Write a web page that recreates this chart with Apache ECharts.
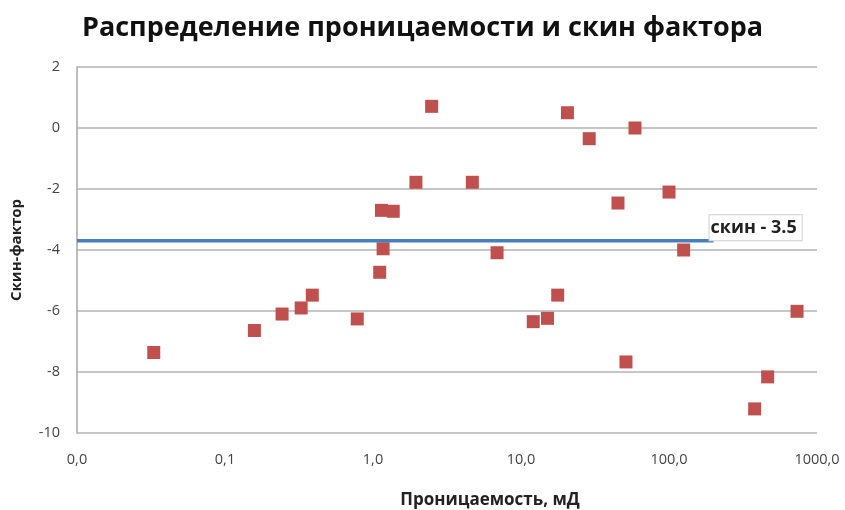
<!DOCTYPE html>
<html><head><meta charset="utf-8">
<script src="https://cdn.jsdelivr.net/npm/echarts@6/dist/echarts.min.js"></script>
<style>html,body{margin:0;padding:0;background:#fff}#c{width:845px;height:510px}</style>
</head><body><div id="c"></div>
<script>
const permeability = [0.033, 0.158, 0.243, 0.327, 0.389, 0.783, 1.11, 1.17, 1.14, 1.37, 1.95, 2.49, 4.69, 6.89, 20.6, 28.9, 58.9, 45.2, 100, 125.6, 17.7, 12.1, 15.1, 51.2, 464, 379, 733];
const skin = [-7.36, -6.64, -6.10, -5.90, -5.48, -6.26, -4.73, -3.96, -2.70, -2.73, -1.78, 0.71, -1.78, -4.09, 0.50, -0.35, 0.0, -2.46, -2.10, -4.0, -5.48, -6.35, -6.24, -7.67, -8.16, -9.21, -6.01];
const lineX = [0.01, 200];
const lineY = [-3.7, -3.7];
const lineLabel = 'скин - 3.5';
const titleText = 'Распределение проницаемости и скин фактора';
const xName = 'Проницаемость, мД';
const yName = 'Скин-фактор';

const chart = echarts.init(document.getElementById('c'));
const font = '"Open Sans", "Liberation Sans", sans-serif';
chart.setOption({
  animation: false,
  title: {text: titleText, left: 'center', top: 10,
    textStyle: {fontFamily: font, fontSize: 27, fontWeight: 'bold', color: '#111'}},
  grid: {left: 77, right: 28, top: 67, bottom: 77, outerBoundsMode: 'none', containLabel: false},
  xAxis: {type: 'log', logBase: 10, min: 0.01, max: 1000,
    name: xName, nameLocation: 'middle', nameGap: 59,
    nameTextStyle: {fontFamily: font, fontSize: 17, fontWeight: 'bold', color: '#222', padding: [0,0,0,86]},
    axisLine: {show: false}, axisTick: {show: false},
    splitLine: {show: false},
    axisLabel: {fontFamily: font, fontSize: 14.5, color: '#444', margin: 19,
      formatter: v => v.toFixed(1).replace('.', ',')}},
  yAxis: {type: 'value', min: -10, max: 2, interval: 2,
    name: yName, nameLocation: 'middle', nameGap: 53, nameRotate: 90,
    nameTextStyle: {fontFamily: font, fontSize: 15, fontWeight: 'bold', color: '#222'},
    axisLine: {show: true, lineStyle: {color: '#A6A6A6', width: 1.5}},
    axisTick: {show: false},
    splitLine: {show: true, lineStyle: {color: '#B3B3B3', width: 1.5}},
    axisLabel: {fontFamily: font, fontSize: 14.5, color: '#444', margin: 17}},
  series: [
    {type: 'line', data: lineX.map((x, i) => [x, lineY[i]]), symbol: 'none',
      lineStyle: {color: '#4A7EBB', width: 3.5},
      endLabel: {show: true, formatter: lineLabel, fontFamily: font, fontSize: 18, fontWeight: 'bold',
        color: '#222', backgroundColor: '#fff', borderColor: '#CFCFCF', borderWidth: 1,
        padding: [4, 5, 3, 1], distance: -4, offset: [0, -13]}},
    {type: 'scatter', data: permeability.map((x, i) => [x, skin[i]]),
      symbol: 'rect', symbolSize: 13,
      itemStyle: {color: '#C0504D', opacity: 1}}
  ]
});
</script></body></html>
